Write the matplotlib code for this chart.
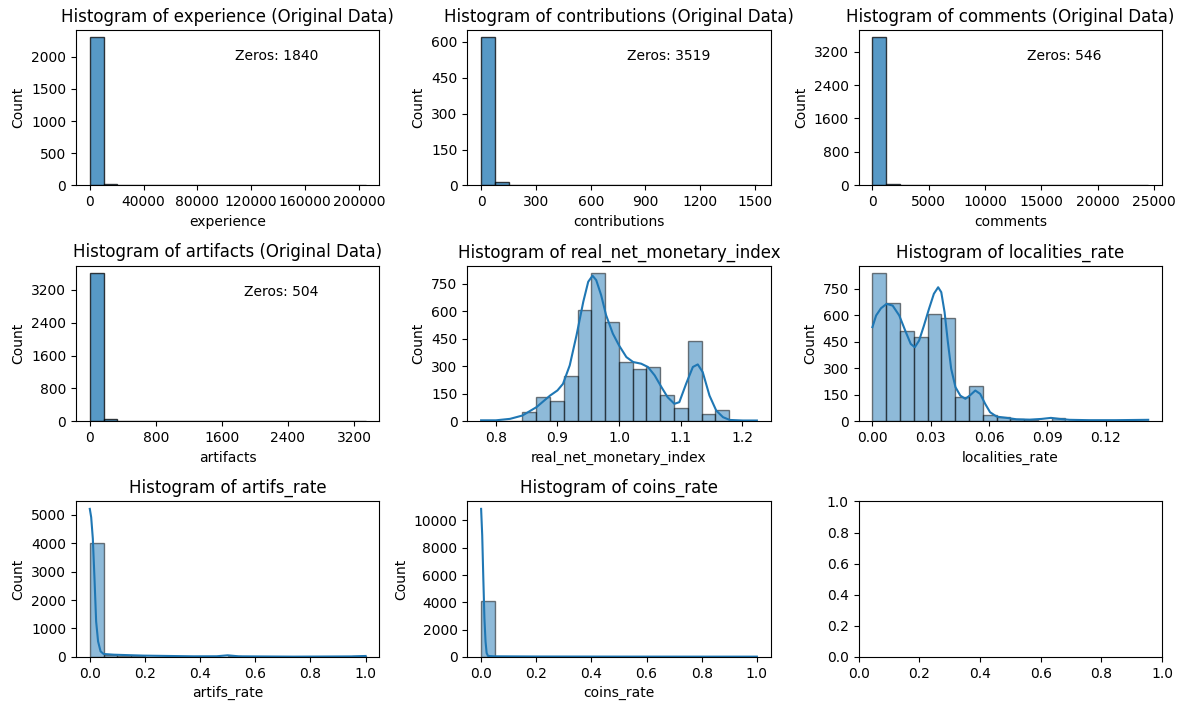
import numpy as np
import matplotlib.pyplot as plt

# bin counts (20 equal-width bins over [lo, hi]) for each variable
experience_range = (0, 205000)
experience_counts = [2297, 18, 4, 2, 1, 1, 0, 1, 0, 0, 1, 0, 0, 0, 0, 0, 0, 0, 0, 1]
experience_zeros = 1840

contributions_range = (0, 1510)
contributions_counts = [618, 13, 1, 1, 1, 0, 0, 1, 0, 0, 0, 0, 0, 0, 0, 0, 0, 0, 0, 1]
contributions_zeros = 3519

comments_range = (0, 24500)
comments_counts = [3537, 40, 6, 3, 2, 1, 1, 0, 1, 0, 0, 0, 0, 0, 0, 0, 0, 0, 0, 1]
comments_zeros = 546

artifacts_range = (0, 3340)
artifacts_counts = [3607, 45, 8, 3, 2, 1, 1, 0, 1, 0, 0, 0, 0, 0, 0, 0, 0, 0, 0, 1]
artifacts_zeros = 504

rnmi_range = (0.776, 1.2236)
rnmi_counts = [2, 1, 3, 49, 133, 108, 248, 606, 808, 542, 323, 286, 296, 144, 73, 436, 40, 62, 3, 1]
rnmi_kde_x = [0.776, 0.8, 0.823, 0.843, 0.866, 0.888, 0.9, 0.909, 0.92, 0.931, 0.942, 0.95,
              0.957, 0.963, 0.971, 0.979, 0.99, 1.0, 1.012, 1.023, 1.036, 1.047, 1.058,
              1.069, 1.079, 1.09, 1.098, 1.109, 1.12, 1.128, 1.136, 1.147, 1.158, 1.169,
              1.18, 1.201, 1.224]
rnmi_kde_y = [5, 5, 13, 31, 77, 140, 168, 204, 305, 469, 652, 761,
              794, 770, 688, 579, 478, 414, 350, 323, 314, 296, 250,
              186, 131, 95, 104, 204, 296, 310, 268, 140, 58, 22,
              7, 4, 4]

loc_range = (0, 0.1418)
loc_counts = [839, 669, 510, 478, 606, 586, 136, 200, 36, 25, 10, 6, 4, 19, 2, 3, 1, 1, 1, 2]
loc_kde_x = [0.0, 0.0019, 0.0044, 0.0073, 0.0104, 0.0138, 0.0172, 0.0197, 0.0218, 0.024,
             0.0265, 0.0291, 0.0316, 0.0338, 0.0354, 0.0371, 0.0388, 0.0405, 0.0427,
             0.0452, 0.0478, 0.05, 0.0529, 0.0554, 0.058, 0.0605, 0.0639, 0.069, 0.0741,
             0.0809, 0.0869, 0.0918, 0.0962, 0.1013, 0.1115, 0.1251, 0.1418]
loc_kde_y = [533, 599, 640, 665, 655, 599, 504, 438, 419, 457,
             542, 637, 722, 759, 731, 618, 448, 297, 193,
             145, 127, 145, 174, 155, 98, 51, 26, 19, 11,
             9, 13, 19, 13, 8, 6, 6, 8]

artifs_range = (0, 1.0)
artifs_counts = [4000, 70, 25, 18, 12, 10, 8, 6, 5, 4, 35, 4, 3, 3, 2, 2, 2, 2, 2, 25]
artifs_kde_x = [0.0, 0.005, 0.011, 0.017, 0.023, 0.03, 0.039, 0.05, 0.087, 0.196,
                0.377, 0.46, 0.5, 0.54, 0.74, 0.95, 1.0]
artifs_kde_y = [5200, 4907, 4151, 2756, 1244, 547, 198, 105, 80, 47,
                23, 25, 58, 23, 12, 20, 35]

coins_range = (0, 1.0)
coins_counts = [4126, 12, 5, 3, 2, 2, 1, 1, 1, 1, 1, 1, 1, 0, 0, 0, 0, 0, 0, 1]
coins_kde_x = [0.0, 0.004, 0.008, 0.012, 0.016, 0.02, 0.025, 0.047, 0.2, 0.5, 0.8, 1.0]
coins_kde_y = [10850, 8908, 5752, 2840, 1141, 291, 73, 49, 35, 28, 25, 25]

# tick labels for each panel
experience_xticks = [0, 40000, 80000, 120000, 160000, 200000]
experience_yticks = [0, 500, 1000, 1500, 2000]
contributions_xticks = [0, 300, 600, 900, 1200, 1500]
contributions_yticks = [0, 150, 300, 450, 600]
comments_xticks = [0, 5000, 10000, 15000, 20000, 25000]
comments_yticks = [0, 800, 1600, 2400, 3200]
artifacts_xticks = [0, 800, 1600, 2400, 3200]
artifacts_yticks = [0, 800, 1600, 2400, 3200]
rnmi_xticks = [0.8, 0.9, 1.0, 1.1, 1.2]
rnmi_yticks = [0, 150, 300, 450, 600, 750]
loc_xticks = [0.0, 0.03, 0.06, 0.09, 0.12]
loc_yticks = [0, 150, 300, 450, 600, 750]
rate_xticks = [0.0, 0.2, 0.4, 0.6, 0.8, 1.0]
artifs_yticks = [0, 1000, 2000, 3000, 4000, 5000]
coins_yticks = [0, 2000, 4000, 6000, 8000, 10000]

BLUE = '#1f77b4'


def draw_hist(ax, name, rng, counts, alpha, kde=None):
    edges = np.linspace(rng[0], rng[1], len(counts) + 1)
    ax.bar(edges[:-1], counts, width=np.diff(edges), align='edge',
           color=BLUE, edgecolor='black', linewidth=1, alpha=alpha)
    if kde is not None:
        ax.plot(kde[0], kde[1], color=BLUE, linewidth=1.5)
    ax.set_xlabel(name)
    ax.set_ylabel('Count')


def add_zeros(ax, n):
    ax.text(0.8, 0.83, f'Zeros: {n}', transform=ax.transAxes,
            ha='right', va='center', fontsize=10)


fig, axes = plt.subplots(3, 3, figsize=(11.84, 7.04), dpi=100)
fig.subplots_adjust(left=0.0642, right=0.9814, top=0.9574, bottom=0.0668,
                    wspace=0.29, hspace=0.516)

originals = [
    ('experience', experience_range, experience_counts, experience_zeros,
     experience_xticks, experience_yticks),
    ('contributions', contributions_range, contributions_counts, contributions_zeros,
     contributions_xticks, contributions_yticks),
    ('comments', comments_range, comments_counts, comments_zeros,
     comments_xticks, comments_yticks),
    ('artifacts', artifacts_range, artifacts_counts, artifacts_zeros,
     artifacts_xticks, artifacts_yticks),
]
for ax, (name, rng, counts, zeros, xt, yt) in zip(axes.flat[:4], originals):
    draw_hist(ax, name, rng, counts, 0.75)
    ax.set_title(f'Histogram of {name} (Original Data)')
    add_zeros(ax, zeros)
    ax.set_xticks(xt)
    ax.set_yticks(yt)

rates = [
    ('real_net_monetary_index', rnmi_range, rnmi_counts, (rnmi_kde_x, rnmi_kde_y),
     rnmi_xticks, rnmi_yticks),
    ('localities_rate', loc_range, loc_counts, (loc_kde_x, loc_kde_y),
     loc_xticks, loc_yticks),
    ('artifs_rate', artifs_range, artifs_counts, (artifs_kde_x, artifs_kde_y),
     rate_xticks, artifs_yticks),
    ('coins_rate', coins_range, coins_counts, (coins_kde_x, coins_kde_y),
     rate_xticks, coins_yticks),
]
for ax, (name, rng, counts, kde, xt, yt) in zip(axes.flat[4:8], rates):
    draw_hist(ax, name, rng, counts, 0.5, kde)
    ax.set_title(f'Histogram of {name}')
    ax.set_xticks(xt)
    ax.set_yticks(yt)

plt.savefig('out.png', dpi=100)
